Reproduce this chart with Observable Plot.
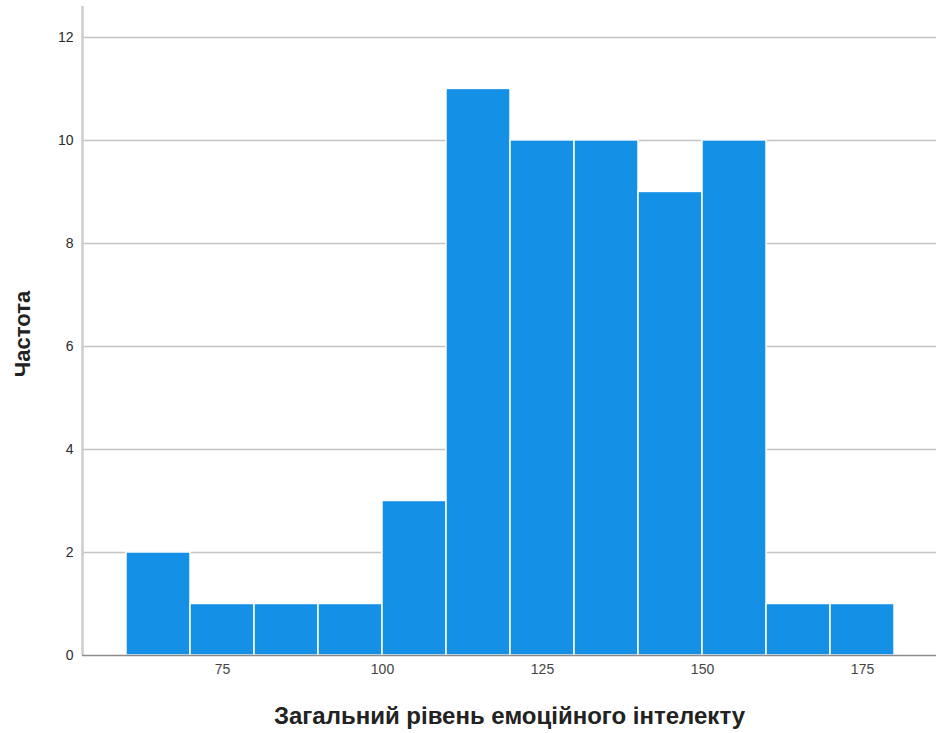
<!DOCTYPE html>
<html>
<head>
<meta charset="utf-8">
<script src="https://cdn.jsdelivr.net/npm/d3@7"></script>
<script src="https://cdn.jsdelivr.net/npm/@observablehq/plot@0.6"></script>
<style>
  html, body { margin: 0; padding: 0; background: #fff; }
  #chart { width: 936px; height: 733px; }
</style>
</head>
<body>
<div id="chart"></div>
<script>
const binStart = [60, 70, 80, 90, 100, 110, 120, 130, 140, 150, 160, 170];
const binWidth = 10;
const counts = [2, 1, 1, 1, 3, 11, 10, 10, 9, 10, 1, 1];
const xTicks = [75, 100, 125, 150, 175];
const yTicks = [0, 2, 4, 6, 8, 10, 12];
const xLabel = "Загальний рівень емоційного інтелекту";
const yLabel = "Частота";

const data = binStart.map((s, i) => ({x1: s, x2: s + binWidth, count: counts[i]}));

const chart = Plot.plot({
  width: 936,
  height: 733,
  marginTop: 6,
  marginLeft: 82,
  marginRight: 0,
  marginBottom: 78,
  style: {fontFamily: "'Liberation Sans', Arial, sans-serif", background: "#fff"},
  x: {domain: [53.125, 186.56]},
  y: {domain: [0, 12.6]},
  marks: [
    Plot.gridY(yTicks.filter(d => d > 0), {stroke: "#c4c4c4", strokeOpacity: 1, strokeWidth: 1.5}),
    Plot.rectY(data, {x1: "x1", x2: "x2", y: "count", fill: "#1490e6", stroke: "#fff", strokeWidth: 1.5}),
    Plot.ruleX([53.125], {stroke: "#cccccc", strokeWidth: 2.5}),
    Plot.ruleY([0], {stroke: "#8a8a8a", strokeWidth: 1.5}),
    Plot.axisY(yTicks, {tickSize: 0, tickPadding: 9, fontSize: 14, fill: "#2a2a2a", tickFormat: "d", label: null}),
    Plot.axisX(xTicks, {tickSize: 0, tickPadding: 9, fontSize: 14, fill: "#444", tickFormat: "d", label: null}),
    Plot.text([xLabel], {frameAnchor: "bottom", dy: 61, text: d => d, fontSize: 24, fontWeight: "bold", fill: "#222", lineAnchor: "middle"}),
    Plot.text([yLabel], {frameAnchor: "left", dx: -60, dy: 3, rotate: -90, textAnchor: "middle", text: d => d, fontSize: 22, fontWeight: "bold", fill: "#222"})
  ]
});
document.getElementById("chart").appendChild(chart);
</script>
</body>
</html>
